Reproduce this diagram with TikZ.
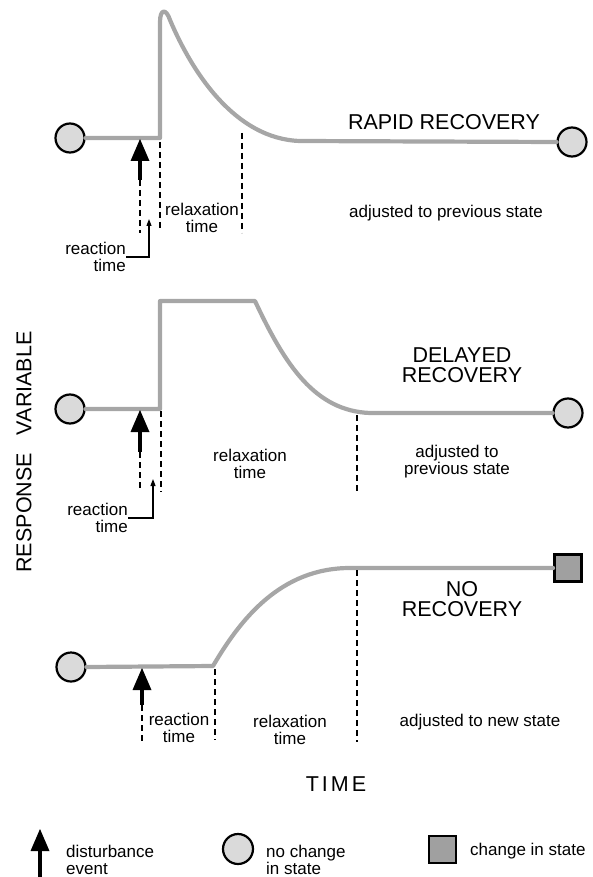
\documentclass[tikz,border=0pt]{standalone}
\usepackage{fontspec}
\setmainfont{Liberation Sans}
\usetikzlibrary{arrows.meta}
\definecolor{respgray}{RGB}{166,166,166}
\definecolor{circfill}{RGB}{218,218,218}
\definecolor{sqfill}{RGB}{160,160,160}
\tikzset{
  resp/.style={draw=respgray, line width=4.2pt, line join=round, line cap=round},
  nochange/.style={circle, draw=black, line width=2.2pt, fill=circfill, minimum size=29pt, inner sep=0pt},
  newstate/.style={rectangle, draw=black, line width=2.8pt, fill=sqfill, minimum size=27pt, inner sep=0pt},
  vdash/.style={draw=black, line width=1.4pt, dash pattern=on 6pt off 4pt},
  shaft/.style={draw=black, line width=4pt},
  rtarrow/.style={draw=black, line width=1.1pt, -{Triangle[length=7pt,width=5pt]}},
  small/.style={font=\fontsize{17}{17}\selectfont, inner sep=0pt, align=center},
  big/.style={font=\fontsize{21.5}{20.5}\selectfont, inner sep=0pt, align=center},
  pics/disturbance/.style={code={
    \fill[black] (0,0) -- (-9.5,22) -- (9.5,22) -- cycle;
    \draw[shaft] (0,20) -- (0,#1);
  }}
}
\begin{document}
\begin{tikzpicture}[x=1pt,y=-1pt]
\useasboundingbox (0,0) rectangle (592,877);

% ---------------- top panel: rapid recovery
\node[nochange] (L1) at (70,138) {};
\node[nochange] (R1) at (572,142) {};
\draw[resp] (L1.east) -- (160,138) -- (160,22) .. controls (160,9) and (166,8) .. (170,20)
  .. controls (192,72) and (235,139) .. (300,141) -- (R1.west);
\pic at (140,139) {disturbance=41};
\draw[vdash] (140,180) -- (140,233);
\draw[vdash] (160,142) -- (160,230);
\draw[vdash] (242,133) -- (242,233);
\node[big] (t1) at (444,122) {RAPID RECOVERY};
\node[small] (a1) at (446,213) {adjusted to previous state};
\node[small] (rx1) at (202,218) {relaxation\\time};
\node[small, align=right, anchor=east] (rt1) at (126,257) {reaction\\time};
\draw[rtarrow] (rt1.east) -| (149,219);

% ---------------- middle panel: delayed recovery
\node[nochange] (L2) at (70,409) {};
\node[nochange] (R2) at (568,413) {};
\draw[resp] (L2.east) -- (160,409) -- (160,301) -- (255,301)
  .. controls (285,365) and (315,411) .. (370,413) -- (R2.west);
\pic at (140,410) {disturbance=42};
\draw[vdash] (140,452) -- (140,490);
\draw[vdash] (161,411) -- (161,492);
\draw[vdash] (357,415) -- (357,492);
\node[big] (t2) at (462,365) {DELAYED\\RECOVERY};
\node[small] (a2) at (457,462) {adjusted to\\previous state};
\node[small] (rx2) at (250,464) {relaxation\\time};
\node[small, align=right, anchor=east] (rt2) at (128,518) {reaction\\time};
\draw[rtarrow] (rt2.east) -| (153,479);

% ---------------- bottom panel: no recovery
\node[nochange] (L3) at (71,667) {};
\node[newstate] (R3) at (568,568) {};
\draw[resp] (L3.east) -- (213,666)
  .. controls (240,620) and (280,568) .. (350,568) -- (R3.west);
\pic at (142,668) {disturbance=37};
\draw[vdash] (142,705) -- (142,743);
\draw[vdash] (215,669) -- (215,740);
\draw[vdash] (357,570) -- (357,742);
\node[big] (t3) at (462,599) {NO\\RECOVERY};
\node[small] (rt3) at (179,728) {reaction\\time};
\node[small] (rx3) at (290,730) {relaxation\\time};
\node[small] (a3) at (480,722) {adjusted to new state};

% ---------------- axes labels
\node[big] (time) at (336,784) {T\kern3pt I\kern3pt M\kern3pt E};
\node[big, rotate=90] (rv) at (24,452) {RESPONSE\hspace{18pt}VARIABLE};

% ---------------- legend
\pic at (40,829) {disturbance=52};
\node[small, align=left, anchor=west] (lg1) at (66,859.5) {disturbance\\event};
\node[nochange, minimum size=30pt] (lgc) at (238,849) {};
\node[small, align=left, anchor=west] (lg2) at (266,859.5) {no change\\in state};
\node[newstate] (lgs) at (442.5,849.5) {};
\node[small, anchor=west] (lg3) at (470,851) {change in state};
\end{tikzpicture}
\end{document}
